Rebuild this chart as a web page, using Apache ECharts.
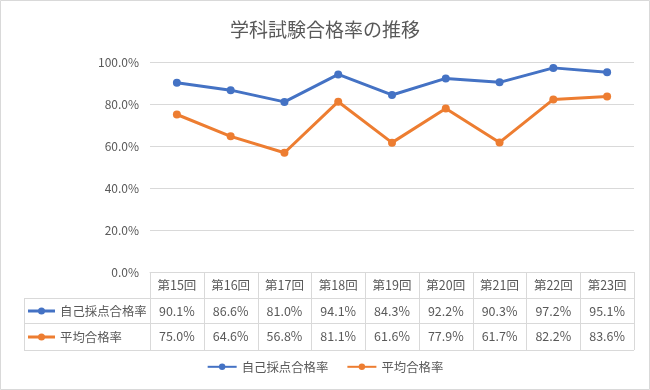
<!DOCTYPE html>
<html><head><meta charset="utf-8">
<script src="https://cdn.jsdelivr.net/npm/echarts@6/dist/echarts.min.js"></script>
<style>html,body{margin:0;padding:0;background:#fff}#c{width:650px;height:390px}</style>
</head><body><div id="c"></div>
<script>
const categories = ['第15回','第16回','第17回','第18回','第19回','第20回','第21回','第22回','第23回'];
const selfRate = [90.1, 86.6, 81.0, 94.1, 84.3, 92.2, 90.3, 97.2, 95.1];
const avgRate = [75.0, 64.6, 56.8, 81.1, 61.6, 77.9, 61.7, 82.2, 83.6];
const seriesNames = ['自己採点合格率', '平均合格率'];
const colors = ['#4472C4', '#ED7D31'];

const FONT = '"Noto Sans CJK JP", "Noto Sans", sans-serif';
const TXT = '#595959';
const LINE = '#d9d9d9';
const GL = 150, GR = 634, GT = 62, GB = 272;
const ROW1 = 298, ROW2 = 323, ROW3 = 350, TL = 24;
const colW = (GR - GL) / categories.length;

const fmt = v => v.toFixed(1) + '%';
const chart = echarts.init(document.getElementById('c'));

const graphics = [];
graphics.push({type:'rect', shape:{x:0.5,y:0.5,width:649,height:389}, style:{fill:null, stroke:LINE, lineWidth:1}, silent:true});
[ROW1, ROW2, ROW3].forEach(y => graphics.push({type:'line', shape:{x1:TL,y1:y+0.5,x2:GR,y2:y+0.5}, style:{stroke:LINE,lineWidth:1}}));
for (let i = 0; i <= categories.length; i++) {
  const x = Math.round(GL + i * colW) + 0.5;
  graphics.push({type:'line', shape:{x1:x,y1:GB,x2:x,y2:ROW3}, style:{stroke:LINE,lineWidth:1}});
}
graphics.push({type:'line', shape:{x1:TL+0.5,y1:ROW1,x2:TL+0.5,y2:ROW3}, style:{stroke:LINE,lineWidth:1}});
[[ROW1, ROW2], [ROW2, ROW3]].forEach((r, k) => {
  const cy = (r[0] + r[1]) / 2 + 0.5;
  graphics.push({type:'line', shape:{x1:28,y1:cy,x2:55,y2:cy}, style:{stroke:colors[k],lineWidth:3}});
  graphics.push({type:'circle', shape:{cx:41.5,cy:cy,r:3.5}, style:{fill:colors[k]}});
  graphics.push({type:'text', x:60, y:cy, style:{text:seriesNames[k], fill:TXT, font:'12.4px ' + FONT, textVerticalAlign:'middle'}});
});

const tableAxis = (data, offset) => ({
  type:'category', data:data, position:'bottom', offset:offset, gridIndex:0,
  axisLine:{show:false}, axisTick:{show:false}, splitLine:{show:false},
  axisLabel:{color:TXT, fontSize:12.5, fontFamily:FONT, margin:7, interval:0}
});

chart.setOption({
  animation:false,
  backgroundColor:'#fff',
  title:{text:'学科試験合格率の推移', left:'center', top:15,
    textStyle:{fontSize:19, fontWeight:'normal', color:TXT, fontFamily:FONT}},
  grid:{left:GL, right:650-GR, top:GT, bottom:390-GB, containLabel:false},
  legend:{bottom:12, left:'center', itemWidth:29, itemHeight:8, itemGap:18,
    textStyle:{color:TXT, fontSize:12.4, fontFamily:FONT}, data:seriesNames},
  xAxis:[
    {type:'category', data:categories, boundaryGap:true,
      axisLine:{show:true, lineStyle:{color:LINE}}, axisTick:{show:false},
      axisLabel:{color:TXT, fontSize:12.5, fontFamily:FONT, margin:7, interval:0}},
    tableAxis(selfRate.map(fmt), 25.5),
    tableAxis(avgRate.map(fmt), 51)
  ],
  yAxis:{type:'value', min:0, max:100, interval:20,
    axisLine:{show:false}, axisTick:{show:false},
    axisLabel:{formatter:v => v.toFixed(1) + '%', color:TXT, fontSize:12, fontFamily:FONT, margin:11},
    splitLine:{lineStyle:{color:LINE}}},
  series:[
    {name:seriesNames[0], type:'line', data:selfRate, color:colors[0], symbol:'circle', symbolSize:8,
      lineStyle:{width:3}, itemStyle:{color:colors[0]}},
    {name:seriesNames[1], type:'line', data:avgRate, color:colors[1], symbol:'circle', symbolSize:8,
      lineStyle:{width:3}, itemStyle:{color:colors[1]}}
  ],
  graphic:graphics
});
</script></body></html>
